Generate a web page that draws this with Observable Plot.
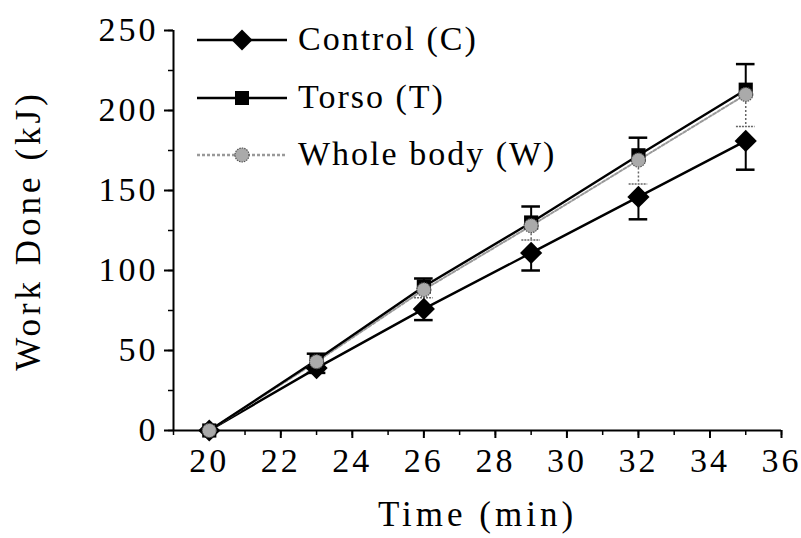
<!DOCTYPE html>
<html>
<head>
<meta charset="utf-8">
<script src="https://cdn.jsdelivr.net/npm/d3@7"></script>
<script src="https://cdn.jsdelivr.net/npm/@observablehq/plot@0.6"></script>
<style>
  html, body { margin: 0; padding: 0; background: #fff; }
  #wrap { position: relative; width: 801px; height: 538px; }
</style>
</head>
<body>
<div id="wrap"></div>
<script>
// ---- data ----
const times = [20, 23, 26, 29, 32, 35];
const control = [0, 39, 76, 111, 146, 181];
const controlErr = [0, 3, 7, 11, 14, 18];
const torso = [0, 44, 90, 130, 172, 213];
const torsoErr = [0, 4, 5, 10, 11, 16];
const whole = [0, 43, 88, 128, 169, 210];
const wholeErr = [0, 3, 5, 9, 15, 20];
const seriesNames = ["Control (C)", "Torso (T)", "Whole body (W)"];
const xTicks = [20, 22, 24, 26, 28, 30, 32, 34, 36];
const yTicks = [0, 50, 100, 150, 200, 250];

const C = times.map((t, i) => ({t, v: control[i], e: controlErr[i]}));
const T = times.map((t, i) => ({t, v: torso[i], e: torsoErr[i]}));
const W = times.map((t, i) => ({t, v: whole[i], e: wholeErr[i]}));
const cap = 0.26;

const font = "'Liberation Serif', 'Times New Roman', serif";

const chart = Plot.plot({
  width: 801,
  height: 538,
  marginLeft: 173,
  marginRight: 20,
  marginTop: 30,
  marginBottom: 108,
  style: {fontFamily: font, fontSize: "34px", color: "#000", background: "#fff", overflow: "visible"},
  x: {domain: [19, 36]},
  y: {domain: [0, 250]},
  marks: [
    // axes
    Plot.axisX({ticks: xTicks, tickSize: 8, tickPadding: 9, tickFormat: d => d, fontSize: 34,
      label: "Time (min)", labelAnchor: "center", labelArrow: "none", labelOffset: 95, strokeWidth: 2}),
    Plot.axisX({ticks: d3.range(19, 37, 1), tickSize: 5, text: null, label: null, strokeWidth: 1.5}),
    Plot.axisY({ticks: yTicks, tickSize: 9, tickPadding: 6, fontSize: 34,
      label: "Work Done (kJ)", labelAnchor: "center", labelArrow: "none", labelOffset: 158, strokeWidth: 2}),
    Plot.axisY({ticks: d3.range(0, 251, 25), tickSize: 5, text: null, label: null, strokeWidth: 1.5}),
    Plot.ruleY([0], {stroke: "#000", strokeWidth: 2}),
    Plot.ruleX([19], {stroke: "#000", strokeWidth: 2}),

    // lines
    Plot.line(C, {x: "t", y: "v", stroke: "#000", strokeWidth: 2.4}),
    Plot.line(W, {x: "t", y: "v", stroke: "#999", strokeWidth: 2, strokeDasharray: "3,2"}),
    Plot.line(T, {x: "t", y: "v", stroke: "#000", strokeWidth: 2.4}),

    // error bars: control (down)
    Plot.ruleX(C.filter(d => d.e > 0), {x: "t", y1: "v", y2: d => d.v - d.e, stroke: "#000", strokeWidth: 2}),
    Plot.ruleY(C.filter(d => d.e > 0), {y: d => d.v - d.e, x1: d => d.t - cap, x2: d => d.t + cap, stroke: "#000", strokeWidth: 2.5}),
    // torso (up)
    Plot.ruleX(T.filter(d => d.e > 0), {x: "t", y1: "v", y2: d => d.v + d.e, stroke: "#000", strokeWidth: 2}),
    Plot.ruleY(T.filter(d => d.e > 0), {y: d => d.v + d.e, x1: d => d.t - cap, x2: d => d.t + cap, stroke: "#000", strokeWidth: 2.5}),
    // whole body (down, dotted)
    Plot.ruleX(W.filter(d => d.e > 0), {x: "t", y1: "v", y2: d => d.v - d.e, stroke: "#666", strokeWidth: 1.5, strokeDasharray: "2,2"}),
    Plot.ruleY(W.filter(d => d.e > 0), {y: d => d.v - d.e, x1: d => d.t - cap, x2: d => d.t + cap, stroke: "#666", strokeWidth: 1.5, strokeDasharray: "2,1"}),

    // markers
    Plot.dot(C, {x: "t", y: "v", symbol: "diamond2", r: 10, fill: "#000", stroke: "none"}),
    Plot.dot(T, {x: "t", y: "v", symbol: "square", r: 8, fill: "#000", stroke: "none"}),
    Plot.dot(W, {x: "t", y: "v", symbol: "circle", r: 7, fill: "#aaa", stroke: "#555", strokeWidth: 1.2, strokeDasharray: "1.5,1"})
  ]
});

// letter-spacing like the original typeset labels
const sel = d3.select(chart);
sel.selectAll('g[aria-label="x-axis tick label"] text, g[aria-label="y-axis tick label"] text').attr("letter-spacing", "3px");
sel.selectAll('g[aria-label="x-axis label"] text, g[aria-label="y-axis label"] text').attr("letter-spacing", "4px").attr("font-size", 35);
document.getElementById("wrap").appendChild(chart);

// ---- legend (inside plot, top-left) ----
const lg = d3.create("svg").attr("width", 801).attr("height", 200)
  .style("position", "absolute").style("left", "0px").style("top", "0px");
const rows = [
  {name: seriesNames[0], y: 40, stroke: "#000", dash: null, sym: "diamond"},
  {name: seriesNames[1], y: 98, stroke: "#000", dash: null, sym: "square"},
  {name: seriesNames[2], y: 155, stroke: "#999", dash: "3,2", sym: "circle"}
];
rows.forEach(r => {
  const g = lg.append("g");
  g.append("line").attr("x1", 197).attr("x2", 287).attr("y1", r.y).attr("y2", r.y)
    .attr("stroke", r.stroke).attr("stroke-width", 2.4).attr("stroke-dasharray", r.dash);
  if (r.sym === "diamond") g.append("path").attr("d", d3.symbol(d3.symbolSquare, 220)()).attr("transform", `translate(242,${r.y}) rotate(45)`).attr("fill", "#000");
  if (r.sym === "square") g.append("rect").attr("x", 235).attr("y", r.y - 7).attr("width", 14).attr("height", 14).attr("fill", "#000");
  if (r.sym === "circle") g.append("circle").attr("cx", 242).attr("cy", r.y).attr("r", 7).attr("fill", "#aaa").attr("stroke", "#555").attr("stroke-width", 1.2).attr("stroke-dasharray", "1.5,1");
  g.append("text").attr("x", 298).attr("y", r.y + 10).text(r.name)
    .attr("font-family", font).attr("font-size", 34).attr("letter-spacing", "2px").attr("fill", "#000");
});
document.getElementById("wrap").appendChild(lg.node());
</script>
</body>
</html>
